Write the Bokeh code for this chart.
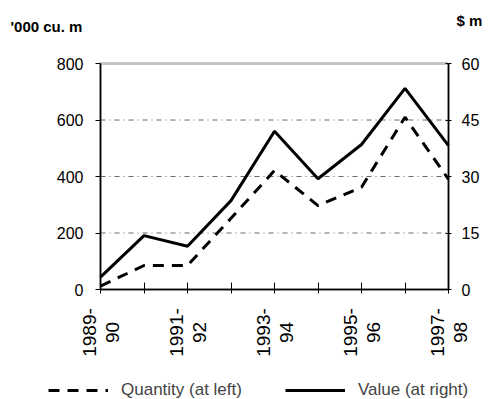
from math import pi
from bokeh.plotting import figure
from bokeh.models import (Range1d, LinearAxis, FixedTicker, Legend, LegendItem, Label)
from bokeh.embed import file_html
from bokeh.resources import INLINE

years = ["1989-90", "1990-91", "1991-92", "1992-93", "1993-94",
         "1994-95", "1995-96", "1996-97", "1997-98"]
quantity = [12, 85, 85, 252, 421, 297, 362, 610, 390]          # '000 cu. m (left axis)
value = [3.3, 14.3, 11.5, 23.6, 42.0, 29.4, 38.5, 53.4, 38.2]  # $ m (right axis)
left_ticks = [0, 200, 400, 600, 800]
right_ticks = [0, 15, 30, 45, 60]
grid_levels = [200, 400, 600]
shown_labels = {0: "1989-\n90", 2: "1991-\n92", 4: "1993-\n94", 6: "1995-\n96", 8: "1997-\n98"}

FONT = "Liberation Sans"
xs = list(range(len(years)))

# layout constants (pixels)
W, H = 501, 399
FL, FR, FT, FB = 100, 448, 63, 289
QMAX, VMAX = left_ticks[-1], right_ticks[-1]
NX = len(years) - 1

xpx = (FR - FL) / NX
ypx = (FB - FT) / QMAX
vpx = (FB - FT) / VMAX


def px2x(px):
    return (px - FL) / xpx


def px2y(py):
    return (FB - py) / ypx


p = figure(width=W, height=H, output_backend="svg", toolbar_location=None,
           x_range=Range1d(px2x(0), px2x(W)), y_range=Range1d(px2y(H), px2y(0)),
           x_axis_location=None, y_axis_location=None,
           min_border=0, min_border_left=0, min_border_right=0,
           min_border_top=0, min_border_bottom=0)
p.extra_y_ranges = {"val": Range1d((FB - H) / vpx, FB / vpx)}
p.outline_line_color = None
p.background_fill_color = "white"
p.border_fill_color = "white"
p.grid.visible = False

# plot-area border (grey textured frame)
p.quad(left=[0], right=[NX], bottom=[0], top=[QMAX], fill_color=None,
       line_color="#8a8a8a", line_width=3, line_dash="1 1")

# horizontal dash-dot gridlines
p.segment(x0=[0] * len(grid_levels), x1=[NX] * len(grid_levels),
          y0=grid_levels, y1=grid_levels, line_color="#666666",
          line_width=1, line_dash="5 4 1 4")

r_q = p.line(xs, quantity, line_color="black", line_width=3, line_dash="11 8")
r_v = p.line(xs, value, y_range_name="val", line_color="black", line_width=3)

# left axis
la = LinearAxis(fixed_location=0, bounds=(0, QMAX), ticker=FixedTicker(ticks=left_ticks))
la.major_tick_in = 0
la.major_tick_out = 5
la.minor_tick_line_color = None
la.axis_line_color = "black"
la.axis_line_width = 1.5
la.major_label_text_font = FONT
la.major_label_text_font_size = "16px"
la.major_label_text_color = "black"
la.major_label_standoff = 12
p.add_layout(la, "left")

# right axis
ra = LinearAxis(y_range_name="val", fixed_location=NX, bounds=(0, VMAX),
                ticker=FixedTicker(ticks=right_ticks))
ra.major_tick_in = 3
ra.major_tick_out = 3
ra.minor_tick_line_color = None
ra.axis_line_color = "black"
ra.axis_line_width = 1.5
ra.major_label_text_font = FONT
ra.major_label_text_font_size = "16px"
ra.major_label_text_color = "black"
ra.major_label_standoff = 10
p.add_layout(ra, "right")

# bottom axis (tick labels drawn as rotated two-line labels below)
xa = LinearAxis(fixed_location=0, bounds=(0, NX), ticker=FixedTicker(ticks=xs))
xa.major_label_overrides = {i: "" for i in xs}
xa.major_tick_in = 7
xa.major_tick_out = 4
xa.minor_tick_line_color = None
xa.axis_line_color = "black"
xa.axis_line_width = 1.5
p.add_layout(xa, "below")

for i, txt in shown_labels.items():
    first, second = txt.split("\n")
    for part, off in ((first, -11), (second, 12)):
        p.add_layout(Label(x=i, y=px2y(332), x_offset=off, text=part, angle=pi / 2,
                           text_align="center", text_baseline="middle",
                           text_font=FONT, text_font_size="19px", text_color="black"))

legend = Legend(items=[LegendItem(label="Quantity (at left)", renderers=[r_q]),
                       LegendItem(label="Value (at right)", renderers=[r_v])],
                orientation="horizontal", location=(48, -1),
                border_line_color=None, background_fill_alpha=0,
                glyph_width=60, label_text_font=FONT, label_text_font_size="17px",
                spacing=43, padding=0, margin=0, label_standoff=13)
p.add_layout(legend, "center")

p.add_layout(Label(x=px2x(10), y=px2y(26), text="'000 cu. m", text_font=FONT,
                   text_font_size="15px", text_font_style="bold",
                   text_baseline="middle", text_color="black"))
p.add_layout(Label(x=px2x(456), y=px2y(20), text="$ m", text_font=FONT,
                   text_font_size="15px", text_font_style="bold",
                   text_baseline="middle", text_color="black"))

open("out.html", "w").write(file_html(p, INLINE))
